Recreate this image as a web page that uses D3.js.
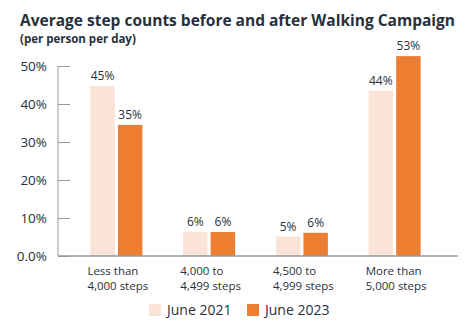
<!DOCTYPE html>
<html><head><meta charset="utf-8">
<script src="https://cdn.jsdelivr.net/npm/d3@7"></script>
<style>
body{margin:0;background:#fff;}
text{font-family:"Open Sans","Noto Sans",sans-serif;fill:#27313d;}
</style></head>
<body><svg id="c" width="470" height="330"></svg>
<script>
const categories = [["Less than","4,000 steps"],["4,000 to","4,499 steps"],["4,500 to","4,999 steps"],["More than","5,000 steps"]];
const seriesNames = ["June 2021","June 2023"];
const june2021 = [44.7, 6.3, 5.1, 43.5];
const june2023 = [34.5, 6.3, 6.1, 52.6];
const yTicks = [0, 10, 20, 30, 40, 50];
const colors = ["#fae3d7", "#ed7d31"];

const svg = d3.select("#c");
const x0 = d3.scaleBand().domain(d3.range(categories.length)).range([70, 441]);
const x1 = d3.scaleBand().domain([0,1]).range([0, 52]).paddingInner(0.115);
const y = d3.scaleLinear().domain([0, 50]).range([256, 66]);

svg.append("text").attr("x", 20).attr("y", 26).attr("font-size", 15.5).attr("font-weight", "bold").text("Average step counts before and after Walking Campaign");
svg.append("text").attr("x", 20).attr("y", 43).attr("font-size", 11.5).attr("font-weight", "bold").text("(per person per day)");

// y axis
const yAxis = d3.axisLeft(y).tickValues(yTicks).tickSize(-12).tickPadding(24)
  .tickFormat(d => d === 0 ? "0.0%" : d + "%");
const ga = svg.append("g").attr("transform", "translate(58,0)").call(yAxis);
ga.select(".domain").attr("stroke", "#999").attr("d", "M0," + y(50) + "V" + y(0));
ga.selectAll(".tick line").attr("stroke", "#999");
ga.selectAll(".tick text").attr("font-size", 13.5).attr("fill", "#27313d").attr("font-family", "Open Sans, Noto Sans, sans-serif").attr("x", -11);

const data = [june2021, june2023];
const groups = svg.append("g");
categories.forEach((c, i) => {
  const gx = x0(i) + (x0.bandwidth() - 52) / 2;
  data.forEach((s, j) => {
    groups.append("rect").attr("x", gx + x1(j)).attr("y", y(s[i])).attr("width", x1.bandwidth()).attr("height", y(0) - y(s[i])).attr("fill", colors[j]);
    groups.append("text").attr("x", gx + x1(j) + x1.bandwidth() / 2).attr("y", y(s[i]) - 6).attr("text-anchor", "middle").attr("font-size", 12).text(d3.format(".0f")(s[i]) + "%");
  });
  const t = svg.append("text").attr("x", gx - 3).attr("y", 275).attr("font-size", 11.5);
  t.append("tspan").attr("x", gx - 3).text(c[0]);
  t.append("tspan").attr("x", gx - 3).attr("dy", 15).text(c[1]);
});

// x axis line
svg.append("line").attr("x1", 58).attr("x2", 458).attr("y1", y(0)).attr("y2", y(0)).attr("stroke", "#999").attr("stroke-width", 1.5);

// legend
const lx = [149, 247];
seriesNames.forEach((n, j) => {
  svg.append("rect").attr("x", lx[j]).attr("y", 304).attr("width", 12).attr("height", 12).attr("fill", colors[j]);
  svg.append("text").attr("x", lx[j] + 18).attr("y", 315).attr("font-size", 14).text(n);
});
</script></body></html>
